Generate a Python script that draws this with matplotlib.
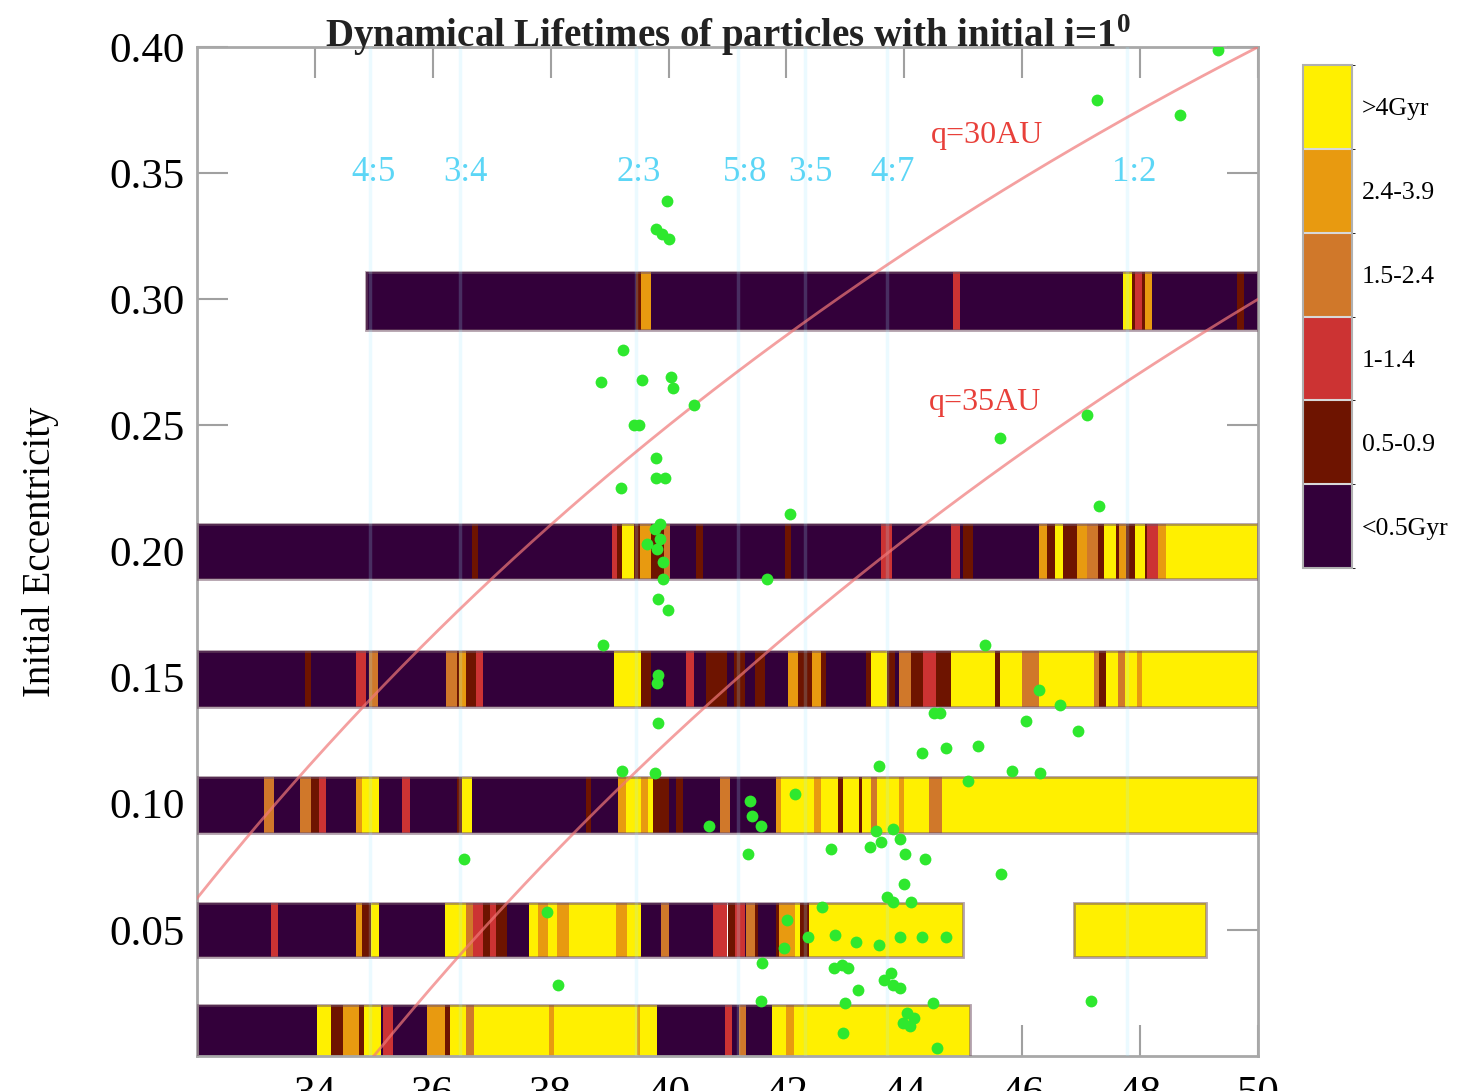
import numpy as np
import matplotlib
matplotlib.use('Agg')
import matplotlib.pyplot as plt
from matplotlib.colors import ListedColormap, BoundaryNorm

plt.rcParams['font.family'] = ['Liberation Serif', 'DejaVu Serif']
plt.rcParams['mathtext.fontset'] = 'custom'
plt.rcParams['mathtext.rm'] = 'Liberation Serif'
plt.rcParams['mathtext.bf'] = 'Liberation Serif:bold'

# ---------------- data ----------------
life_labels = ['<0.5Gyr', '0.5-0.9', '1-1.4', '1.5-2.4', '2.4-3.9', '>4Gyr']
life_colors = ['#33003a', '#6e1400', '#cc3333', '#d0782a', '#e89a10', '#fff000']

# band at e=0.30
b30_edges = [34.87, 39.45, 39.53, 39.71, 44.83, 44.94, 47.71, 47.86, 47.91, 48.03, 48.08, 48.20, 49.65, 49.77, 50.0]
b30_codes = [0, 1, 4, 0, 2, 0, 5, 1, 2, 1, 4, 0, 1, 0]

# band at e=0.20
b20_edges = [32.0, 36.67, 36.76, 39.04, 39.13, 39.21, 39.42, 39.51, 39.71, 39.74, 39.92, 40.03, 40.47, 40.59,
             41.98, 42.08, 43.61, 43.79, 44.79, 44.94, 45.0, 45.17, 46.28, 46.42, 46.55, 46.70, 46.93,
             47.10, 47.28, 47.38, 47.59, 47.65, 47.76, 47.80, 47.91, 48.09, 48.12, 48.30, 48.44, 50.0]
b20_codes = [0, 1, 0, 2, 1, 5, 1, 4, 1, 1, 3, 0, 1,
             0, 1, 0, 2, 0, 2, 0, 1, 0, 4, 1, 5, 1,
             4, 3, 1, 5, 1, 4, 1, 1, 5, 1, 2, 4, 5]

# band at e=0.15
b15_edges = [32.0, 33.84, 33.93, 34.69, 34.86, 34.92, 35.07, 36.23, 36.41, 36.44, 36.56, 36.73, 36.85,
             39.07, 39.53, 39.70, 40.30, 40.44, 40.64, 40.99, 41.11, 41.29, 41.46, 41.64, 42.02, 42.20,
             42.43, 42.58, 42.67, 43.35, 43.44, 43.70, 43.85, 43.91, 44.11, 44.32, 44.53, 44.79, 45.53,
             45.62, 46.0, 46.29, 47.21, 47.30, 47.42, 47.62, 47.74, 47.94, 48.03, 50.0]
b15_codes = [0, 1, 0, 2, 0, 3, 0, 3, 1, 4, 1, 2,
             0, 5, 1, 0, 2, 0, 1, 0, 1, 0, 1, 0, 4,
             1, 4, 1, 0, 1, 5, 1, 0, 3, 1, 2, 1, 5,
             1, 5, 3, 5, 3, 1, 5, 3, 5, 4, 5]

# band at e=0.10
b10_edges = [32.0, 33.14, 33.31, 33.75, 33.93, 34.07, 34.19, 34.69, 34.80, 35.09, 35.47, 35.62, 36.41,
             36.50, 36.67, 38.60, 38.69, 39.15, 39.27, 39.53, 39.65, 39.74, 40.0, 40.12, 40.24, 40.88,
             41.05, 41.82, 41.91, 42.46, 42.58, 42.87, 42.96, 43.23, 43.29, 43.44, 43.53, 43.91, 44.0,
             44.41, 44.64, 50.0]
b10_codes = [0, 3, 0, 3, 1, 2, 0, 4, 5, 0, 2, 0,
             1, 5, 0, 1, 0, 4, 5, 4, 5, 1, 0, 1, 0,
             3, 0, 4, 5, 4, 5, 1, 5, 1, 5, 3, 5, 4,
             5, 3, 5]

# band at e=0.05 (left piece and right piece)
b05_edges = [32.0, 33.25, 33.37, 34.69, 34.80, 34.95, 35.09, 36.20, 36.56, 36.68, 36.85, 36.97, 37.08,
             37.26, 37.64, 37.78, 37.96, 38.10, 38.31, 39.10, 39.30, 39.53, 39.88, 40.0, 40.76, 41.0,
             41.12, 41.29, 41.31, 41.46, 41.52, 41.82, 41.87, 42.14, 42.23, 42.38, 45.0]
b05_codes = [0, 2, 0, 4, 1, 5, 0, 5, 3, 2, 1, 2,
             1, 0, 5, 4, 5, 4, 5, 4, 5, 0, 3, 0, 2,
             1, 2, 0, 3, 1, 0, 1, 4, 5, 1, 5]
b05r_edges = [46.88, 49.12]
b05r_codes = [5]

# band at e=0.01
b01_edges = [32.0, 34.04, 34.28, 34.48, 34.74, 34.83, 35.12, 35.15, 35.33, 35.91, 36.20, 36.29, 36.56,
             36.70, 37.98, 38.05, 39.46, 39.52, 39.80, 40.96, 41.08, 41.20, 41.32, 41.76, 42.0, 42.12, 45.11]
b01_codes = [0, 5, 1, 4, 1, 5, 0, 2, 0, 4, 1, 5,
             3, 5, 4, 5, 4, 5, 0, 2, 0, 3, 0, 5, 4, 5]

bands = [
    (0.2995, 0.0115, b30_edges, b30_codes),
    (0.2000, 0.0110, b20_edges, b20_codes),
    (0.1495, 0.0110, b15_edges, b15_codes),
    (0.0995, 0.0110, b10_edges, b10_codes),
    (0.0500, 0.0107, b05_edges, b05_codes),
    (0.0500, 0.0107, b05r_edges, b05r_codes),
    (0.0100, 0.0102, b01_edges, b01_codes),
]

# resonances
res_names = ['4:5', '3:4', '2:3', '5:8', '3:5', '4:7', '1:2']
res_a = [34.93, 36.46, 39.44, 41.18, 42.31, 43.71, 47.78]
res_label_a = [35.0, 36.55, 39.5, 41.3, 42.4, 43.8, 47.9]

# perihelion curves
q_values = [30, 35]
q_label_a = [44.45, 44.42]
q_label_e = [0.362, 0.256]

# observed objects (a [AU], e)
obj_a = [49.32, 47.27, 48.68, 39.97, 39.79, 39.89, 40.00, 39.23, 38.85, 39.55, 40.04, 40.08, 40.43,
         39.41, 39.50, 39.79, 39.79, 39.94, 39.19, 47.10, 45.62, 42.06, 47.30, 39.86, 39.77, 39.86,
         39.63, 39.80, 39.90, 39.90, 41.67, 39.82, 39.99, 38.89, 45.37, 39.82, 39.80, 46.29, 44.50,
         44.60, 46.07, 46.64, 46.95, 39.82, 44.70, 45.25, 43.57, 44.30, 45.08, 45.83, 46.30, 39.21,
         39.77, 42.15, 41.38, 41.42, 41.57, 40.69, 43.52, 43.80, 43.93, 42.76, 43.42, 43.60, 44.01,
         44.35, 41.35, 36.53, 45.64, 43.99, 43.70, 43.80, 44.12, 42.60, 42.01, 37.94, 42.82, 42.37,
         43.93, 44.30, 44.71, 43.57, 41.96, 43.18, 41.59, 42.81, 42.94, 43.05, 43.77, 43.65, 43.80,
         43.93, 43.22, 38.12, 41.57, 42.99, 44.49, 47.17, 44.05, 44.17, 43.98, 44.10, 42.96, 44.56]
obj_e = [0.399, 0.379, 0.373, 0.339, 0.328, 0.326, 0.324, 0.280, 0.267, 0.268, 0.269, 0.265, 0.258,
         0.250, 0.250, 0.237, 0.229, 0.229, 0.225, 0.254, 0.245, 0.215, 0.218, 0.211, 0.209, 0.205,
         0.203, 0.201, 0.196, 0.189, 0.189, 0.181, 0.177, 0.163, 0.163, 0.151, 0.148, 0.145, 0.136,
         0.136, 0.133, 0.139, 0.129, 0.132, 0.122, 0.123, 0.115, 0.120, 0.109, 0.113, 0.112, 0.113,
         0.112, 0.104, 0.101, 0.095, 0.091, 0.091, 0.089, 0.090, 0.086, 0.082, 0.083, 0.085, 0.080,
         0.078, 0.080, 0.078, 0.072, 0.068, 0.063, 0.061, 0.061, 0.059, 0.054, 0.057, 0.048, 0.047,
         0.047, 0.047, 0.047, 0.044, 0.043, 0.045, 0.037, 0.035, 0.036, 0.035, 0.033, 0.030, 0.028,
         0.027, 0.026, 0.028, 0.022, 0.021, 0.021, 0.022, 0.017, 0.015, 0.013, 0.012, 0.009, 0.003]

x_ticks = [34, 36, 38, 40, 42, 44, 46, 48, 50]
y_ticks = [0.05, 0.10, 0.15, 0.20, 0.25, 0.30, 0.35, 0.40]

# ---------------- figure ----------------
W, H = 1463, 1091
fig = plt.figure(figsize=(W / 100, H / 100), dpi=100)
ax = fig.add_axes([197 / W, 1 - 1056 / H, (1258 - 197) / W, (1056 - 47) / H])
ax.set_xlim(32, 50)
ax.set_ylim(0, 0.40)

for (ec, hw, edges, codes) in bands:
    edges = np.asarray(edges)
    widths = np.diff(edges)
    ax.bar(edges[:-1], 2 * hw, width=widths, bottom=ec - hw, align='edge',
           color=[life_colors[c] for c in codes], linewidth=0, zorder=2)
    ax.bar(edges[0], 2 * hw, width=edges[-1] - edges[0], bottom=ec - hw, align='edge',
           fill=False, edgecolor=(0.45, 0.32, 0.4, 0.55), linewidth=2.0, zorder=3)

# resonance lines and labels
for name, a, la in zip(res_names, res_a, res_label_a):
    ax.axvline(a, color='#9fe8ff', alpha=0.2, linewidth=2.5, zorder=4)
    ax.text(la, 0.347, name, color='#5cd6f6', fontsize=25, ha='center', va='baseline', zorder=6)

# perihelion curves
a_grid = np.linspace(32, 50, 400)
for q in q_values:
    ecurve = 1 - q / a_grid
    ax.plot(a_grid, ecurve, color='#f07878', alpha=0.7, linewidth=2.0, zorder=4)
for q, la, le in zip(q_values, q_label_a, q_label_e):
    ax.text(la, le, 'q=%dAU' % q, color='#e8403a', fontsize=23, ha='left', va='baseline', zorder=6)

# observed objects
ax.plot(obj_a, obj_e, 'o', color='#2ee82e', markersize=8.5, markeredgewidth=0, zorder=5)

# axes styling
ax.set_xticks(x_ticks)
ax.set_yticks(y_ticks)
ax.set_yticklabels(['%.2f' % v for v in y_ticks])
ax.tick_params(direction='in', length=22, width=1.5, color='#a0a0a0', labelsize=31,
               top=True, right=True, pad=9)
ax.tick_params(axis='x', pad=14)
for sp in ax.spines.values():
    sp.set_color('#a8a8a8')
    sp.set_linewidth(2)
ax.set_ylabel('Initial Eccentricity', fontsize=28, labelpad=36)
ax.text(0.5, 1.0, r'Dynamical Lifetimes of particles with initial i=1$^{\mathbf{0}}$', transform=ax.transAxes,
        ha='center', va='baseline', fontsize=28, fontweight='bold', color='#222222', zorder=7)

# colorbar
cax = fig.add_axes([1303 / W, 1 - 568 / H, 49 / W, (568 - 65) / H])
cmap = ListedColormap(life_colors)
norm = BoundaryNorm(np.arange(-0.5, 6.5, 1), cmap.N)
sm = matplotlib.cm.ScalarMappable(norm=norm, cmap=cmap)
cb = fig.colorbar(sm, cax=cax, ticks=np.arange(6), drawedges=True)
cb.ax.set_yticklabels(life_labels)
cb.ax.tick_params(length=0, labelsize=18.5, pad=7)
cb.outline.set_edgecolor('#b0b0b0')
cb.outline.set_linewidth(1.5)
cb.dividers.set_color('#d8d8d8')
cb.dividers.set_linewidth(1.5)

fig.savefig('out.png', dpi=100)
